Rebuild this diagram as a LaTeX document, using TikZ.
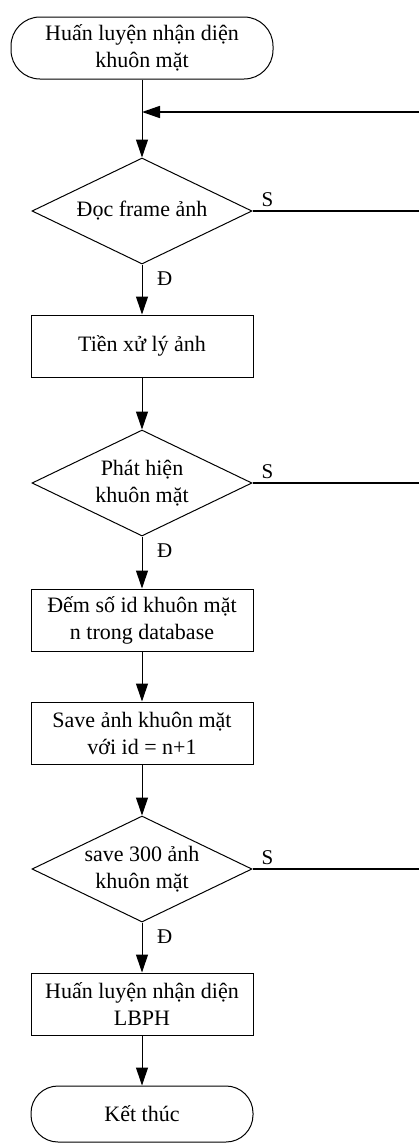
\documentclass[tikz,border=0pt]{standalone}
\usepackage{fontspec}
\setmainfont{Liberation Serif}
\usetikzlibrary{shapes.geometric,arrows.meta}
\begin{document}
\begin{tikzpicture}[x=1pt,y=-1pt,
	chu/.style={font=\fontsize{22}{27}\selectfont},
	khoi/.style={chu,draw,line width=1pt,minimum width=222pt,minimum height=62pt,align=center,inner sep=2pt},
	dau/.style={chu,draw,line width=1pt,rounded corners=29pt,minimum height=62pt,align=center},
	re/.style={chu,draw,diamond,line width=1pt,minimum width=220pt,minimum height=106pt,aspect=2.07,inner sep=-8pt,align=center},
	nhan/.style={font=\fontsize{21}{23}\selectfont,inner sep=0pt},
	nhanh/.style={line width=1.7pt},
	>={Triangle[length=18pt,width=12pt]}]
\useasboundingbox (0,0) rectangle (419,1144);
\node[dau,minimum width=262pt] (start) at (142,48) {Huấn luyện nhận diện\\khuôn mặt};
\node[re] (d1) at (142,211) {Đọc frame ảnh};
\node[khoi] (b1) at (142,346) {Tiền xử lý ảnh};
\node[re] (d2) at (142,483) {Phát hiện\\khuôn mặt};
\node[khoi] (b2) at (142,620) {Đếm số id khuôn mặt\\n trong database};
\node[khoi] (b3) at (142,733) {Save ảnh khuôn mặt\\với id = n+1};
\node[re] (d3) at (142,869) {save 300 ảnh\\khuôn mặt};
\node[khoi] (b4) at (142,1004) {Huấn luyện nhận diện\\LBPH};
\node[dau,minimum width=222pt,minimum height=56pt,rounded corners=27pt] (end) at (142,1114) {Kết thúc};
% luong chinh
\draw[->,line width=1pt] (start) -- (d1);
\draw[->,line width=1pt] (d1) -- (b1);
\draw[->,line width=1pt] (b1) -- (d2);
\draw[->,line width=1pt] (d2) -- (b2);
\draw[->,line width=1pt] (b2) -- (b3);
\draw[->,line width=1pt] (b3) -- (d3);
\draw[->,line width=1pt] (d3) -- (b4);
\draw[->,line width=1pt] (b4) -- (end);
% quay lai doc frame
\coordinate (vao) at (419,112);
\coordinate (noi) at (142,112);
\draw[nhanh,->] (vao) -- (noi);
% cac nhanh S / D
\foreach \Re/\Yc in {d1/211,d2/483,d3/869}
{
	\coordinate (\Re-r) at (419,\Yc);
	\draw[nhanh] (\Re.east) -- (\Re-r);
	\node[nhan,anchor=south west] (\Re-s) at ([xshift=9pt,yshift=4pt]\Re.east) {S};
	\node[nhan,anchor=north west] (\Re-d) at ([xshift=15pt,yshift=-7pt]\Re.south) {Đ};
}
\end{tikzpicture}
\end{document}
